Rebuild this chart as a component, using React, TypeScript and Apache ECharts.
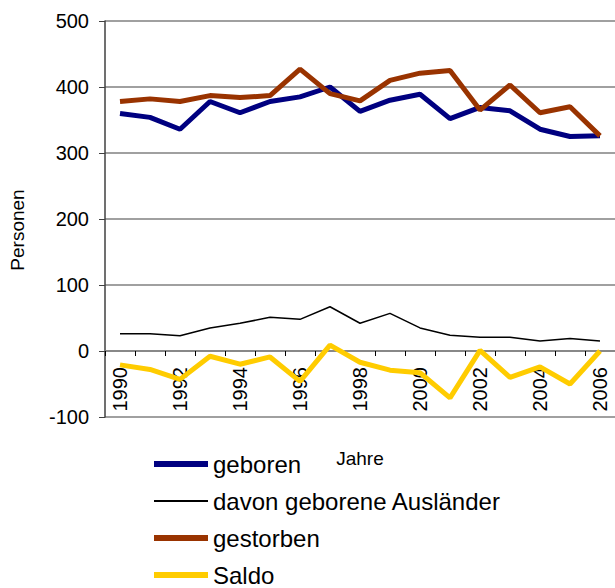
import React, { useEffect, useRef } from "react";
import * as echarts from "echarts";

const years = ["1990","1991","1992","1993","1994","1995","1996","1997","1998","1999","2000","2001","2002","2003","2004","2005","2006"];
const geboren = [360, 354, 336, 378, 361, 378, 385, 400, 363, 380, 389, 352, 369, 364, 336, 325, 326];
const auslaender = [26, 26, 23, 35, 42, 51, 48, 67, 42, 57, 35, 24, 21, 21, 15, 19, 15];
const gestorben = [378, 382, 378, 387, 384, 387, 427, 390, 379, 410, 421, 425, 365, 403, 361, 370, 326];
const saldo = [-21, -28, -43, -8, -20, -9, -46, 9, -17, -29, -33, -71, 1, -40, -24, -50, 0];

const FONT = "'Liberation Sans', Arial, sans-serif";

export default function App() {
  const ref = useRef<HTMLDivElement>(null);
  useEffect(() => {
    const chart = echarts.init(ref.current!, null, { renderer: "svg" });
    const mk = (name: string, data: number[], color: string, width: number) => ({
      name,
      type: "line",
      data,
      symbol: "none",
      showSymbol: false,
      lineStyle: { color, width },
      itemStyle: { color },
    });
    chart.setOption({
      animation: false,
      textStyle: { fontFamily: FONT, color: "#000" },
      grid: { left: 104, top: 21, width: 515, height: 396, containLabel: false },
      legend: {
        orient: "vertical",
        left: 151,
        top: 452,
        height: 170,
        padding: 0,
        itemWidth: 54,
        itemHeight: 14,
        itemGap: 13,
        itemStyle: { opacity: 0 },
        textStyle: { fontFamily: FONT, fontSize: 24, color: "#000" },
        data: [
          { name: "geboren", lineStyle: { width: 6 } },
          { name: "davon geborene Ausländer", lineStyle: { width: 2 } },
          { name: "gestorben", lineStyle: { width: 6 } },
          { name: "Saldo", lineStyle: { width: 6 } },
        ],
      },
      xAxis: {
        type: "category",
        data: years,
        boundaryGap: true,
        offset: -66,
        name: "Jahre",
        nameLocation: "middle",
        nameGap: 98,
        nameTextStyle: { fontFamily: FONT, fontSize: 19, color: "#000" },
        axisLine: { onZero: false, lineStyle: { color: "#808080", width: 1.5 } },
        axisTick: { show: true, length: 5, interval: 0, lineStyle: { color: "#000" } },
        axisLabel: { rotate: 90, interval: 1, margin: 16, fontSize: 20, color: "#000", fontFamily: FONT },
        splitLine: { show: false },
      },
      yAxis: {
        type: "value",
        min: -100,
        max: 500,
        interval: 100,
        name: "Personen",
        nameLocation: "middle",
        nameGap: 78,
        nameTextStyle: { fontFamily: FONT, fontSize: 19, color: "#000", padding: [0, 0, 0, -22] },
        axisLine: { show: true, lineStyle: { color: "#404040", width: 1.5 } },
        axisTick: { show: true, length: 6, lineStyle: { color: "#404040" } },
        axisLabel: { margin: 16, fontSize: 20, color: "#000", fontFamily: FONT },
        splitLine: { show: true, lineStyle: { color: "#808080", width: 1.5 } },
      },
      series: [
        mk("geboren", geboren, "#000080", 5),
        mk("davon geborene Ausländer", auslaender, "#000000", 1.5),
        mk("gestorben", gestorben, "#993300", 5),
        mk("Saldo", saldo, "#FFCC00", 5),
      ],
    });
    return () => chart.dispose();
  }, []);
  return <div ref={ref} style={{ width: 615, height: 588, position: "absolute", left: 0, top: 0 }} />;
}
